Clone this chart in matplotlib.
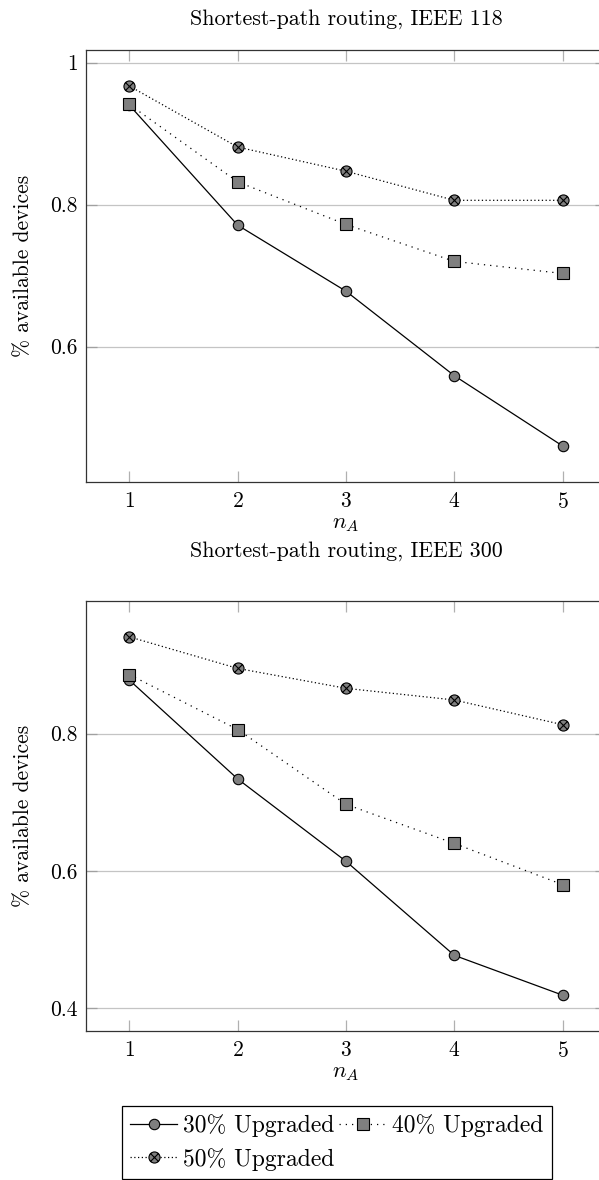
import matplotlib
matplotlib.use("Agg")
import matplotlib.pyplot as plt
from matplotlib.path import Path
from matplotlib.ticker import FixedLocator, FuncFormatter

plt.rcParams['font.family'] = 'serif'
plt.rcParams['font.serif'] = ['cmr10', 'DejaVu Serif']
plt.rcParams['mathtext.fontset'] = 'cm'
plt.rcParams['axes.formatter.use_mathtext'] = True
plt.rcParams['font.size'] = 15.5

n_a = [1, 2, 3, 4, 5]

# IEEE 118
ieee118_30 = [0.940, 0.771, 0.678, 0.559, 0.460]
ieee118_40 = [0.941, 0.832, 0.772, 0.720, 0.703]
ieee118_50 = [0.967, 0.881, 0.847, 0.806, 0.806]

# IEEE 300
ieee300_30 = [0.878, 0.734, 0.614, 0.477, 0.419]
ieee300_40 = [0.886, 0.806, 0.697, 0.640, 0.580]
ieee300_50 = [0.941, 0.895, 0.866, 0.849, 0.813]

titles = ["Shortest-path routing, IEEE 118", "Shortest-path routing, IEEE 300"]
yticks = [[0.6, 0.8, 1.0], [0.4, 0.6, 0.8]]
labels = ["30% Upgraded", "40% Upgraded", "50% Upgraded"]

# circle with a cross inside (pgfplots otimes*)
d = 0.7071
cross = Path([(-d, -d), (d, d), (-d, d), (d, -d)],
             [Path.MOVETO, Path.LINETO, Path.MOVETO, Path.LINETO])
otimes = Path.make_compound_path(Path.unit_circle(), cross)

fig = plt.figure(figsize=(5.99, 11.8), dpi=100)
ax1 = fig.add_axes([86 / 599, 1 - 482 / 1180, 520 / 599, 432 / 1180])
ax2 = fig.add_axes([86 / 599, 1 - 1031 / 1180, 520 / 599, 430 / 1180])

series = [(ieee118_30, ieee118_40, ieee118_50), (ieee300_30, ieee300_40, ieee300_50)]
title_pads = [18, 32]

for ax, (s30, s40, s50), title, yt, tpad in zip([ax1, ax2], series, titles, yticks, title_pads):
    ax.plot(n_a, s30, color='black', linewidth=0.9, linestyle='-',
            marker='o', markersize=7.5, markerfacecolor='#7f7f7f',
            markeredgecolor='black', markeredgewidth=0.8, label=labels[0], zorder=3)
    ax.plot(n_a, s40, color='black', linewidth=0.9, linestyle=(0, (1, 4)),
            marker='s', markersize=8, markerfacecolor='#7f7f7f',
            markeredgecolor='black', markeredgewidth=0.8, label=labels[1], zorder=4)
    ax.plot(n_a, s50, color='black', linewidth=0.9, linestyle=(0, (1, 2)),
            marker=otimes, markersize=8, markerfacecolor='#7f7f7f',
            markeredgecolor='black', markeredgewidth=0.8, label=labels[2], zorder=5)

    # pgfplots style enlarged limits
    lo = min(min(s30), min(s40), min(s50))
    hi = max(max(s30), max(s40), max(s50))
    r = hi - lo
    ax.set_ylim(lo - 0.1 * r, hi + 0.1 * r)
    ax.set_xlim(0.6, 5.4)

    ax.xaxis.set_major_locator(FixedLocator(n_a))
    ax.yaxis.set_major_locator(FixedLocator(yt))
    ax.yaxis.set_major_formatter(FuncFormatter(lambda v, p: '%g' % v))
    ax.yaxis.grid(True, color='#c4c4c4', linewidth=0.9, zorder=0)
    ax.set_axisbelow(True)
    ax.tick_params(axis='x', direction='in', length=8, width=0.9, color='#b0b0b0',
                   top=True, pad=7)
    ax.tick_params(axis='y', direction='in', length=8, width=0.9, color='#a0a0a0',
                   right=True, pad=6)
    for sp in ax.spines.values():
        sp.set_linewidth(0.9)
        sp.set_color('#333333')

    ax.set_xlabel('$n_A$', labelpad=2, fontsize=16.5)
    ax.set_ylabel('% available devices', labelpad=12)
    ax.set_title(title, pad=tpad, fontsize=15.8)

# row-major legend order: 30%, 40% on the first row, 50% below
h, l = ax2.get_legend_handles_labels()
order = [0, 2, 1]
leg = fig.legend([h[i] for i in order], [l[i] for i in order], ncol=2,
                 loc='lower center', bbox_to_anchor=(337 / 599, 1 / 1180),
                 frameon=True, fancybox=False, shadow=False, framealpha=1,
                 edgecolor='black', fontsize=17, handlelength=2.0,
                 handletextpad=0.25, columnspacing=0.2, labelspacing=0.45,
                 borderpad=0.35, borderaxespad=0)
leg.get_frame().set_linewidth(0.9)

plt.savefig('out.png', dpi=100)
